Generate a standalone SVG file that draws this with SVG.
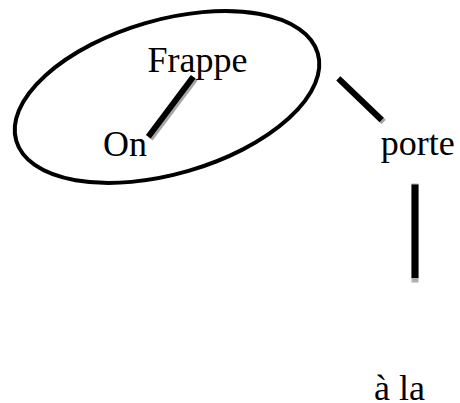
<svg xmlns="http://www.w3.org/2000/svg" width="460" height="403" viewBox="0 0 460 403">
<style>
.t{font-family:"Liberation Serif","Times New Roman",serif;font-size:36px;fill:#000}
.e{stroke:#000;stroke-width:6;stroke-linecap:butt}
.s{stroke:#a6a6a6;stroke-width:6;stroke-linecap:butt}
</style>
<rect width="460" height="403" fill="#fff"/>
<g id="group-ellipse">
<ellipse cx="167" cy="97" rx="157" ry="77" transform="rotate(-16.2 167 97)" fill="none" stroke="#000" stroke-width="4"/>
</g>
<g id="connectors">
<line class="s" x1="195.3" y1="78.7" x2="150.3" y2="138.7"/>
<line class="e" x1="193.3" y1="76.7" x2="148.3" y2="136.7"/>
<line class="s" x1="340.3" y1="80.3" x2="383.7" y2="122"/>
<line class="e" x1="338.3" y1="78.3" x2="381.7" y2="120"/>
<rect x="411.5" y="183.5" width="7" height="99" fill="#b0b0b0"/>
<rect x="411.5" y="184.5" width="7" height="93.5" fill="#000"/>
</g>
<g id="node-frappe"><text class="t" x="147.5" y="71.7">Frappe</text></g>
<g id="node-on"><text class="t" x="103" y="155.7">On</text></g>
<g id="node-porte"><text class="t" x="380.7" y="155">porte</text></g>
<g id="node-ala"><text class="t" x="374" y="400">à la</text></g>
</svg>
